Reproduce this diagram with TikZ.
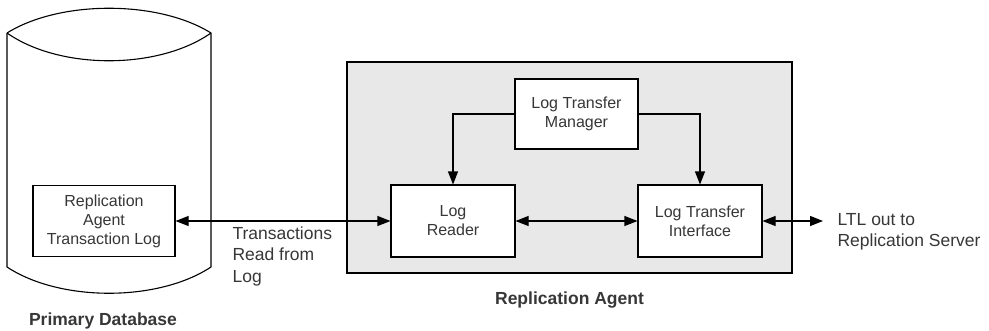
\documentclass[tikz,border=0pt]{standalone}
\usepackage{fontspec}
\setmainfont{Liberation Sans}
\usetikzlibrary{arrows.meta}
\definecolor{agentgray}{RGB}{232,232,232}
\definecolor{textgray}{RGB}{55,55,55}
\begin{document}
\begin{tikzpicture}[x=1pt,y=-1pt,line width=1.1pt,
  >={Triangle[length=13pt,width=10pt]},
  box/.style={draw,fill=white,align=center,text=textgray,
    font=\fontsize{16}{19}\selectfont,inner sep=0pt},
  lbl/.style={align=left,text=textgray,font=\fontsize{17.5}{21.5}\selectfont,inner sep=0pt},
  title/.style={text=textgray,font=\fontsize{17.5}{20}\selectfont\bfseries,inner sep=0pt}]
\useasboundingbox (0,0) rectangle (989,330);

% primary database cylinder
\draw (7,33) -- (7,267) .. controls (60,302) and (158,302) .. (211,267)
      -- (211,33) .. controls (158,0) and (60,0) .. (7,33);
\draw (7,33) .. controls (60,70) and (158,70) .. (211,33);
\node[title] (pdb) at (103,321) {Primary Database};

% replication agent area
\draw[fill=agentgray] (347,62) rectangle (792,273);
\node[title] (ratitle) at (569.5,300) {Replication Agent};

% boxes
\node[box,minimum width=142pt,minimum height=71pt] (ralog) at (104,221)
     {Replication\\Agent\\Transaction Log};
\node[box,minimum width=123pt,minimum height=70pt] (manager) at (576.5,114)
     {Log Transfer\\Manager};
\node[box,minimum width=124pt,minimum height=72pt] (reader) at (453,221)
     {Log\\Reader};
\node[box,minimum width=124pt,minimum height=72pt] (interface) at (700,221)
     {Log Transfer\\Interface};
\coordinate (ltlend) at (823,221);

% connectors
\draw[<->] (ralog.east) -- (reader.west);
\draw[<->] (reader.east) -- (interface.west);
\draw[->] (manager.west) -| (reader.north);
\draw[->] (manager.east) -| (interface.north);
\draw[<->] (interface.east) -- (ltlend);

% labels
\node[lbl,anchor=west] (translbl) at (232,256) {Transactions\\Read from\\Log};
\node[lbl,anchor=west] (ltllbl) at (837,232) {LTL out to\\Replication Server};

\end{tikzpicture}
\end{document}
